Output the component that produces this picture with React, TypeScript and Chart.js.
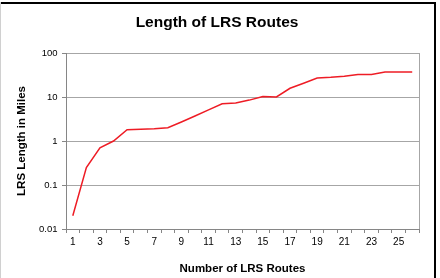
import React, { useEffect, useRef } from "react";
import { Chart, registerables } from "chart.js";

Chart.register(...registerables);

const categories: string[] = Array.from({ length: 26 }, (_, i) => String(i + 1));
const routeLengths: number[] = [
  0.02, 0.25, 0.7, 1.0, 1.8, 1.85, 1.9, 2.0, 2.7, 3.7, 5.1, 7.0, 7.3, 8.5, 10.2, 10,
  15.8, 20.5, 27, 28, 29.5, 32.5, 32.5, 37, 37, 37,
];
const yTickValues: number[] = [0.01, 0.1, 1, 10, 100];
const yTickLabels: string[] = ["0.01", "0.1", "1", "10", "100"];

const FONT = "'Liberation Sans', Arial, sans-serif";

const framePlugin = {
  id: "frame",
  afterDraw(chart: any) {
    const { ctx, chartArea } = chart;
    ctx.save();
    // plot area right border
    ctx.strokeStyle = "#a6a6a6";
    ctx.lineWidth = 1;
    ctx.beginPath();
    ctx.moveTo(Math.round(chartArea.right) + 0.5, chartArea.top);
    ctx.lineTo(Math.round(chartArea.right) + 0.5, chartArea.bottom);
    ctx.stroke();
    // outer frame
    ctx.fillStyle = "#000";
    ctx.fillRect(0, 2, 436, 2);
    ctx.fillRect(434, 2, 2, 276);
    ctx.fillStyle = "#d0d0d0";
    ctx.fillRect(0, 2, 1, 276);
    ctx.restore();
  },
};

export default function App() {
  const ref = useRef<HTMLCanvasElement | null>(null);
  useEffect(() => {
    if (!ref.current) return;
    const chart = new Chart(ref.current, {
      type: "line",
      data: {
        labels: categories,
        datasets: [
          {
            data: routeLengths,
            borderColor: "#ee1c25",
            borderWidth: 1.5,
            pointRadius: 0,
            tension: 0,
            fill: false,
          },
        ],
      },
      options: {
        responsive: false,
        animation: false,
        layout: { padding: { left: 15, right: 21, top: 0, bottom: 0 } },
        plugins: {
          legend: { display: false },
          tooltip: { enabled: false },
          title: {
            display: true,
            text: "Length of LRS Routes",
            color: "#000",
            font: { family: FONT, size: 15.5, weight: "bold" },
            padding: { top: 13.7, bottom: 20.7 },
          },
        },
        scales: {
          x: {
            type: "category",
            offset: true,
            grid: {
              display: true,
              offset: true,
              drawOnChartArea: false,
              drawTicks: true,
              tickLength: 4,
              color: "#868686",
            },
            border: { display: true, color: "#868686", width: 1 },
            ticks: {
              autoSkip: false,
              maxRotation: 0,
              minRotation: 0,
              padding: 3,
              color: "#000",
              font: { family: FONT, size: 10 },
              callback: (_v: any, i: number) => (i % 2 === 0 ? categories[i] : ""),
            },
            title: {
              display: true,
              text: "Number of LRS Routes",
              color: "#000",
              font: { family: FONT, size: 11.5, weight: "bold" },
              padding: { top: 0, bottom: 2.6 },
            },
            afterFit: (s: any) => {
              s.height = 49;
            },
          },
          y: {
            type: "logarithmic",
            min: 0.01,
            max: 100,
            afterBuildTicks: (s: any) => {
              s.ticks = yTickValues.map((v) => ({ value: v }));
            },
            grid: {
              display: true,
              color: "#a6a6a6",
              lineWidth: 1,
              drawTicks: true,
              tickLength: 4,
              tickColor: "#868686",
            },
            border: { display: true, color: "#868686", width: 1 },
            ticks: {
              padding: 4.5,
              color: "#000",
              font: { family: FONT, size: 9.5 },
              callback: (v: any) => {
                const idx = yTickValues.findIndex((t) => Math.abs(t - Number(v)) < 1e-9);
                return idx >= 0 ? yTickLabels[idx] : "";
              },
            },
            title: {
              display: true,
              text: "LRS Length in Miles",
              color: "#000",
              font: { family: FONT, size: 11.5, weight: "bold" },
              padding: { top: 0, bottom: 0 },
            },
            afterFit: (s: any) => {
              s.width = 51;
            },
          },
        },
      },
      plugins: [framePlugin],
    });
    return () => chart.destroy();
  }, []);
  return (
    <div style={{ position: "absolute", left: 0, top: 0, width: 440, height: 278, background: "#fff" }}>
      <canvas ref={ref} width={440} height={278} style={{ width: 440, height: 278, display: "block" }} />
    </div>
  );
}
